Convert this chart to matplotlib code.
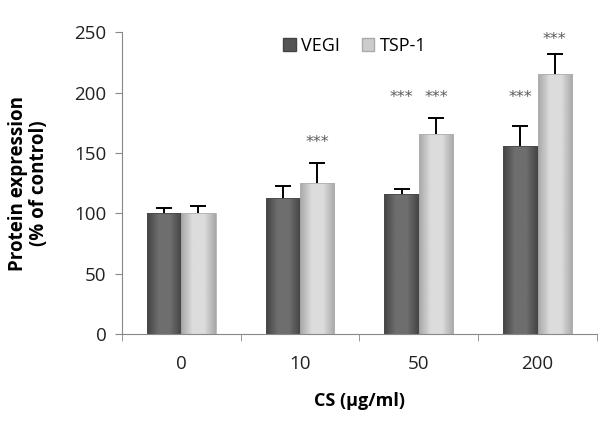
import numpy as np
import matplotlib.pyplot as plt
from matplotlib.colors import LinearSegmentedColormap
from matplotlib.patches import Patch

doses = ["0", "10", "50", "200"]
vegi = [100, 113, 116, 156]
vegi_err = [4.5, 10, 4.5, 16.5]
tsp = [100, 125, 166, 215]
tsp_err = [6.5, 17, 13, 17]
# significance marks: label height, None = no mark
vegi_star = [None, None, 196, 196]
tsp_star = [None, 159, 196, 244]

plt.rcParams['font.family'] = ['Open Sans', 'DejaVu Sans']


def shade(ax, bars, edge, mid):
  # horizontal gradient to mimic the cylinder look of the original bars
  cmap = LinearSegmentedColormap.from_list("c", [edge, mid, mid, edge])
  grad = np.linspace(0, 1, 64).reshape(1, -1)
  for b in bars:
    x, y = b.get_x(), b.get_y()
    w, h = b.get_width(), b.get_height()
    im = ax.imshow(grad, cmap=cmap, extent=(x, x + w, y, y + h),
                   aspect='auto', zorder=2, interpolation='bilinear')
    im.set_clip_path(b)
    b.set_facecolor('none')


def upper_err(ax, xs, ys, errs):
  eb = ax.errorbar(xs, ys, yerr=[np.zeros(len(ys)), errs], fmt='none',
                   ecolor='black', elinewidth=1.4, capsize=5.5, capthick=1.4, zorder=4)
  eb[1][0].remove()  # drop the lower cap sitting on the bar top


def main():
  fig, ax = plt.subplots(figsize=(6, 4.23), dpi=100)
  fig.subplots_adjust(left=0.203, right=0.995, bottom=0.21, top=0.924)
  x = np.arange(len(doses))
  w = 0.29
  b1 = ax.bar(x - w / 2, vegi, w, edgecolor='#4a4a4a', linewidth=0.6, zorder=3)
  b2 = ax.bar(x + w / 2, tsp, w, edgecolor='#b0b0b0', linewidth=0.6, zorder=3)
  shade(ax, b1, '#444444', '#6e6e6e')
  shade(ax, b2, '#a8a8a8', '#dcdcdc')
  upper_err(ax, x - w / 2, vegi, vegi_err)
  upper_err(ax, x + w / 2, tsp, tsp_err)
  for i in range(len(doses)):
    if vegi_star[i] is not None:
      ax.text(x[i] - w / 2, vegi_star[i], '***', ha='center', va='center',
              fontsize=11.5, color='#5a5a5a', family='DejaVu Sans')
    if tsp_star[i] is not None:
      ax.text(x[i] + w / 2, tsp_star[i], '***', ha='center', va='center',
              fontsize=11.5, color='#5a5a5a', family='DejaVu Sans')

  ax.set_xlim(-0.5, 3.5)
  ax.set_ylim(0, 250)
  ax.set_yticks(range(0, 251, 50))
  ax.set_xticks(x)
  ax.set_xticklabels(doses)
  ax.set_xticks(np.arange(-0.5, 4, 1), minor=True)
  ax.tick_params(axis='x', which='major', length=0, pad=15, labelsize=13.5, labelcolor='#222222')
  ax.tick_params(axis='x', which='minor', length=5, color='#888888', direction='out')
  ax.tick_params(axis='y', length=5, color='#888888', labelsize=13.5, labelcolor='#222222', pad=6)
  for s in ['top', 'right']:
    ax.spines[s].set_visible(False)
  for s in ['left', 'bottom']:
    ax.spines[s].set_color('#888888')
  ax.set_xlabel('CS (µg/ml)', fontsize=13, fontweight='bold', labelpad=14)
  ax.set_ylabel('Protein expression\n(% of control)', fontsize=13.5, fontweight='bold',
                labelpad=18, linespacing=1.1)
  handles = [Patch(facecolor='#555555', edgecolor='#444444', label='VEGI'),
             Patch(facecolor='#cccccc', edgecolor='#aaaaaa', label='TSP-1')]
  ax.legend(handles=handles, loc='center', bbox_to_anchor=(0.49, 0.955), ncol=2,
            frameon=False, fontsize=13, handlelength=0.7, handleheight=0.7,
            handletextpad=0.3, columnspacing=1.2)
  fig.savefig('out.png')

main()
